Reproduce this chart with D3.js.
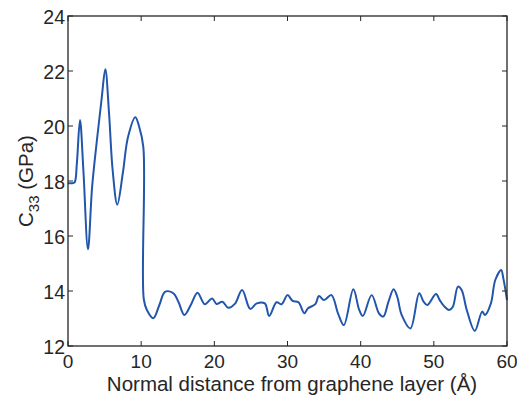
<!DOCTYPE html>
<html><head><meta charset="utf-8">
<script src="https://cdn.jsdelivr.net/npm/d3@7"></script>
<style>body{margin:0;background:#fff}svg{display:block}text{font-family:"Liberation Sans",Arial,sans-serif;fill:#262626}</style>
</head><body><svg id="c" width="517" height="397"></svg>
<script>
const distance = [0,0.5,0.9,1.2,1.64,2.1,2.73,3.3,4.0,4.6,5.1,5.6,6.1,6.74,7.5,8.2,9.2,9.7,10.3,10.36,10.8,11.66,12.5,13.26,14.4,15.1,15.9,16.8,17.7,18.7,19.7,20.3,21.1,21.9,22.8,23.8,24.9,25.8,26.9,27.5,28.5,29.2,30.0,30.7,31.5,32.3,32.8,33.8,34.3,35.0,36.0,36.9,37.7,39.0,39.8,40.3,41.5,42.5,43.1,43.8,44.5,45.0,45.6,46.8,48.0,48.6,49.1,50.3,50.8,51.4,52.1,52.6,53.3,53.8,54.5,55.6,56.6,57.0,57.8,58.4,59.2,59.5,60];
const c33 = [17.92,17.92,17.95,18.6,20.22,18.4,15.52,17.8,19.6,21.0,22.06,20.5,18.4,17.14,18.3,19.6,20.32,20.0,19.22,13.7,13.3,13.01,13.5,13.97,13.92,13.6,13.13,13.5,13.94,13.52,13.73,13.53,13.61,13.39,13.53,14.04,13.35,13.55,13.55,13.09,13.59,13.52,13.85,13.64,13.59,13.19,13.37,13.52,13.82,13.67,13.85,13.19,12.76,14.06,13.31,13.09,13.85,13.19,13.07,13.61,14.06,13.79,13.13,12.64,13.92,13.61,13.49,13.89,13.67,13.45,13.31,13.43,14.16,14.04,13.31,12.55,13.25,13.13,13.55,14.4,14.76,14.46,13.67];
const xTicks = [0,10,20,30,40,50,60];
const yTicks = [12,14,16,18,20,22,24];

const svg = d3.select("#c");
const L=68,R=507,T=16,B=346;
const x = d3.scaleLinear().domain([0,60]).range([L,R]);
const y = d3.scaleLinear().domain([12,24]).range([B,T]);
const axc="#262626";

const line = d3.line().x((d,i)=>x(distance[i])).y(d=>y(d)).curve(d3.curveCatmullRom.alpha(0.5));
svg.append("path").attr("d",line(c33)).attr("fill","none").attr("stroke","#2156ab").attr("stroke-width",2);

const g = svg.append("g");
g.append("rect").attr("x",L).attr("y",T).attr("width",R-L).attr("height",B-T).attr("fill","none").attr("stroke",axc).attr("stroke-width",1.3);
xTicks.forEach(t=>{
  g.append("line").attr("x1",x(t)).attr("x2",x(t)).attr("y1",B).attr("y2",B-5).attr("stroke",axc);
  g.append("line").attr("x1",x(t)).attr("x2",x(t)).attr("y1",T).attr("y2",T+5).attr("stroke",axc);
  g.append("text").attr("x",x(t)).attr("y",B+22).attr("text-anchor","middle").attr("font-size",19).text(t);
});
yTicks.forEach(t=>{
  g.append("line").attr("x1",L).attr("x2",L+5).attr("y1",y(t)).attr("y2",y(t)).attr("stroke",axc);
  g.append("line").attr("x1",R).attr("x2",R-5).attr("y1",y(t)).attr("y2",y(t)).attr("stroke",axc);
  g.append("text").attr("x",L-3).attr("y",y(t)+8).attr("text-anchor","end").attr("font-size",19.5).text(t);
});
svg.append("text").attr("x",292).attr("y",391).attr("text-anchor","middle").attr("font-size",20.5).text("Normal distance from graphene layer (Å)");
const yl = svg.append("text").attr("transform","translate(33,"+((T+B)/2)+") rotate(-90)").attr("text-anchor","middle").attr("font-size",20.5);
yl.append("tspan").text("C");
yl.append("tspan").attr("font-size",15).attr("dy",6).text("33");
yl.append("tspan").attr("dy",-6).text(" (GPa)");
</script></body></html>
